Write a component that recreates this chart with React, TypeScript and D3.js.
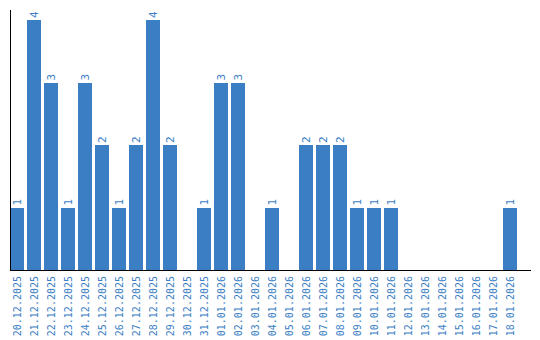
import React from "react";
import * as d3 from "d3";

const categories = [
  "20.12.2025", "21.12.2025", "22.12.2025", "23.12.2025", "24.12.2025",
  "25.12.2025", "26.12.2025", "27.12.2025", "28.12.2025", "29.12.2025",
  "30.12.2025", "31.12.2025", "01.01.2026", "02.01.2026", "03.01.2026",
  "04.01.2026", "05.01.2026", "06.01.2026", "07.01.2026", "08.01.2026",
  "09.01.2026", "10.01.2026", "11.01.2026", "12.01.2026", "13.01.2026",
  "14.01.2026", "15.01.2026", "16.01.2026", "17.01.2026", "18.01.2026",
];
const values = [1, 4, 3, 1, 3, 2, 1, 2, 4, 2, 0, 1, 3, 3, 0, 1, 0, 2, 2, 2, 1, 1, 1, 0, 0, 0, 0, 0, 0, 1];

const W = 540;
const H = 340;
const BLUE = "#3b7ec3";
const FONT = "'DejaVu Sans Mono', monospace";

export default function App() {
  const x = d3
    .scaleBand<string>()
    .domain(categories)
    .range([10, 517])
    .paddingInner(3 / 17)
    .paddingOuter(0);
  const y = d3.scaleLinear().domain([0, 4]).range([270, 20]);

  return (
    <svg
      width={W}
      height={H}
      style={{ position: "absolute", left: 0, top: 0 }}
      shapeRendering="crispEdges"
    >
      {categories.map((c, i) => {
        const v = values[i];
        const cx = (x(c) as number) + x.bandwidth() / 2;
        return (
          <g key={c}>
            {v > 0 && (
              <rect
                x={x(c)}
                y={y(v)}
                width={x.bandwidth()}
                height={y(0) - y(v)}
                fill={BLUE}
              />
            )}
            {v > 0 && (
              <text
                transform={`translate(${cx + 4},${y(v) - 2}) rotate(-90)`}
                fontFamily={FONT}
                fontSize={11}
                fill={BLUE}
              >
                {v}
              </text>
            )}
            <text
              transform={`translate(${cx + 4},276) rotate(-90)`}
              textAnchor="end"
              fontFamily={FONT}
              fontSize={10}
              fill={BLUE}
            >
              {c}
            </text>
          </g>
        );
      })}
      <line x1={10.5} x2={10.5} y1={10} y2={270} stroke="#000" strokeWidth={1} />
      <line x1={10} x2={531} y1={270.5} y2={270.5} stroke="#000" strokeWidth={1} />
    </svg>
  );
}
